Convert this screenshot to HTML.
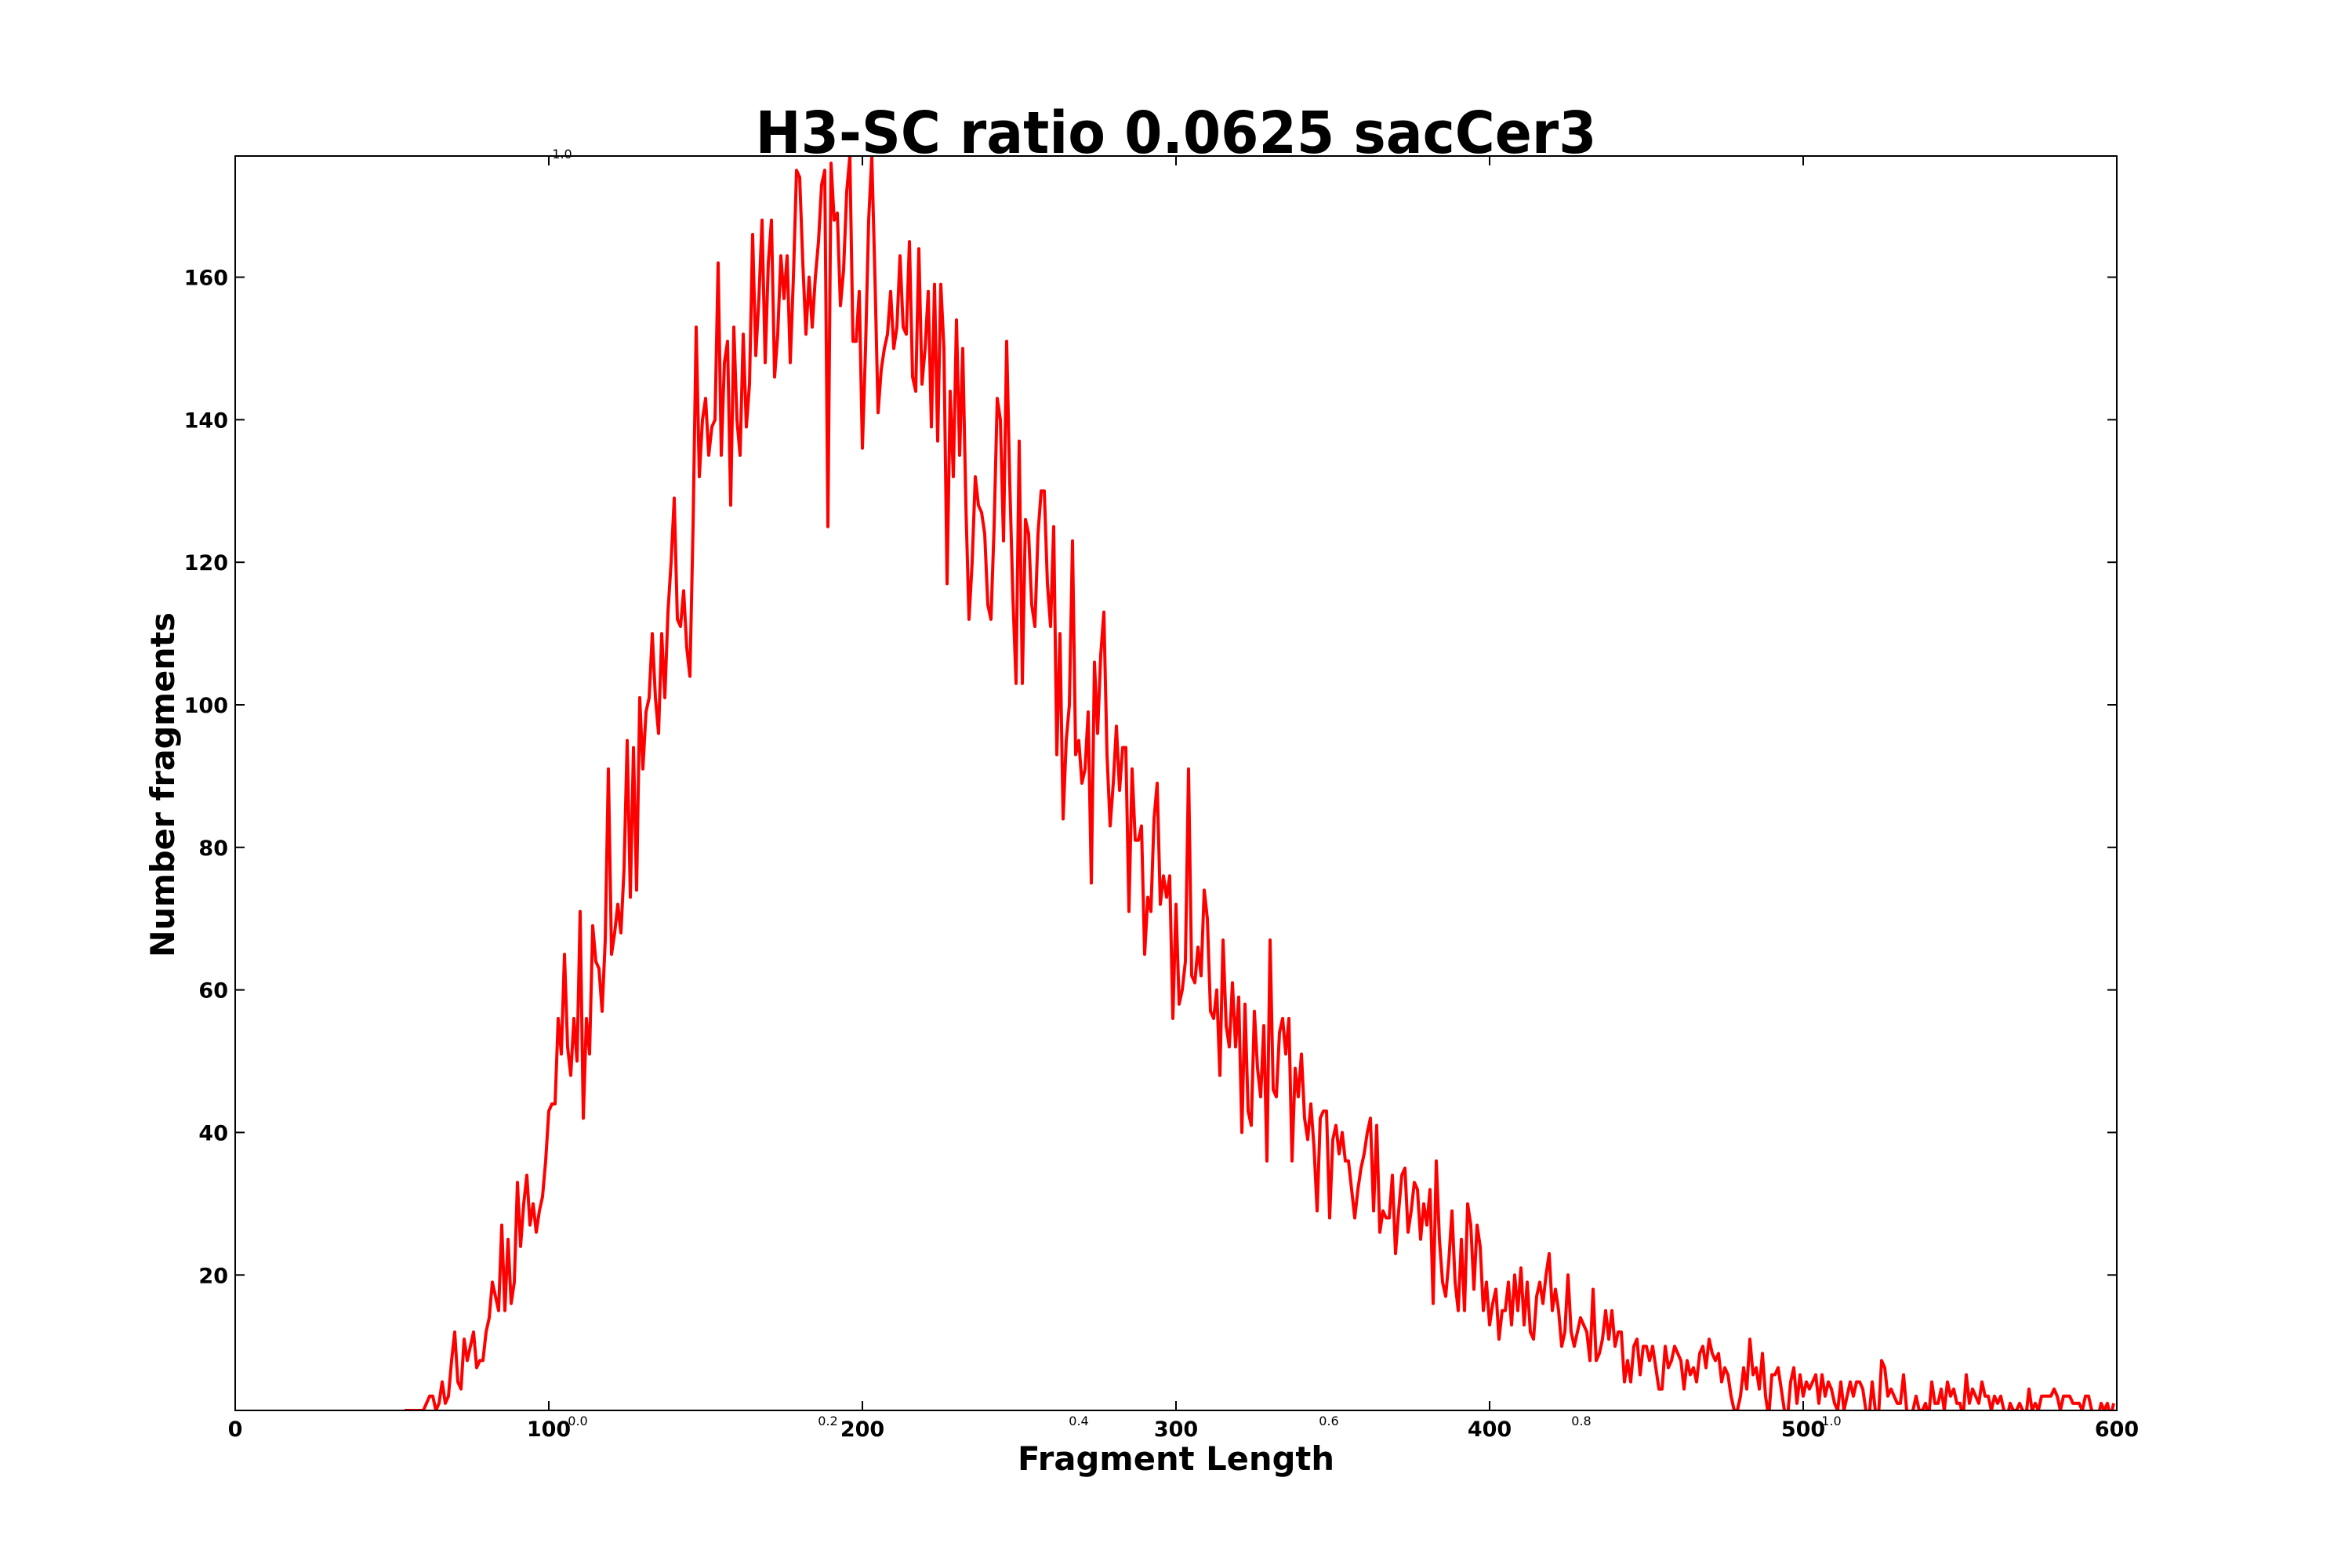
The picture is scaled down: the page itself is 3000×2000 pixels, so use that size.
<!DOCTYPE html>
<html><head><meta charset="utf-8"><style>
html,body{margin:0;padding:0;background:#fff;}
svg{display:block;font-family:"DejaVu Sans","Liberation Sans",sans-serif;}
</style></head><body>
<svg id="chart" width="3000" height="2000" viewBox="0 0 3000 2000">
<rect width="3000" height="2000" fill="#fff"/>
<text x="1500" y="195" text-anchor="middle" font-size="74" font-weight="bold" textLength="1073" lengthAdjust="spacingAndGlyphs">H3-SC ratio 0.0625 sacCer3</text>
<defs><clipPath id="pc"><rect x="300" y="199" width="2400" height="1600"/></clipPath></defs>
<g id="ticks"></g>
<path id="line" fill="none" stroke="#ff0000" stroke-width="4" stroke-linejoin="round" clip-path="url(#pc)"/>
<rect x="300" y="199" width="2400" height="1600" fill="none" stroke="#000" stroke-width="2"/>
<text x="1500" y="1875" text-anchor="middle" font-size="42" font-weight="bold" textLength="404" lengthAdjust="spacingAndGlyphs">Fragment Length</text>
<text transform="translate(222,1001) rotate(-90)" text-anchor="middle" font-size="42" font-weight="bold" textLength="440" lengthAdjust="spacingAndGlyphs">Number fragments</text>
<g font-size="16">
<text x="717" y="202" text-anchor="middle">1.0</text>
<text x="737" y="1818" text-anchor="middle">0.0</text>
<text x="1056" y="1818" text-anchor="middle">0.2</text>
<text x="1376" y="1818" text-anchor="middle">0.4</text>
<text x="1695" y="1818" text-anchor="middle">0.6</text>
<text x="2017" y="1818" text-anchor="middle">0.8</text>
<text x="2336" y="1818" text-anchor="middle">1.0</text>
</g>
</svg>
<script>
const xStart = 54;
const counts = [
1,1,1,1,1,1,1,2,3,
3,1,2,5,2,3,8,12,5,4,
11,8,10,12,7,8,8,12,14,19,
17,15,27,15,25,16,19,33,24,30,
34,27,30,26,29,31,36,43,44,44,
56,51,65,52,48,56,50,71,42,56,
51,69,64,63,57,67,91,65,68,72,
68,77,95,73,94,74,101,91,99,101,
110,101,96,110,101,113,120,129,112,111,
116,108,104,125,153,132,140,143,135,139,
140,162,135,148,151,128,153,140,135,152,
139,145,166,149,157,168,148,162,168,146,
152,163,157,163,148,160,175,174,162,152,
160,153,160,165,173,175,125,176,168,169,
156,161,172,177,151,151,158,136,150,168,
177,160,141,147,
150,152,158,150,
153,163,153,152,165,146,
144,164,145,150,158,139,159,137,159,150,
117,144,132,154,135,150,128,112,120,132,
128,127,124,114,112,125,143,140,123,151,
131,115,103,137,
103,126,124,114,111,124,130,130,117,111,
125,93,110,84,95,100,123,93,95,89,
91,99,75,106,96,107,113,93,83,89,
97,88,94,94,71,91,81,81,83,65,
73,71,84,89,72,76,73,76,56,72,
58,60,64,91,62,61,66,62,74,70,
57,56,60,48,67,55,52,61,52,59,
40,58,43,41,57,49,45,55,36,67,
46,45,54,56,51,56,36,49,45,51,
42,39,44,38,29,42,43,43,28,
39,41,37,40,36,36,32,28,32,35,
37,40,42,29,41,26,29,28,28,34,
23,29,34,35,26,29,33,32,25,30,
27,32,16,36,25,19,17,22,29,19,
15,25,15,30,27,18,27,24,15,19,
13,16,18,11,15,15,19,13,20,15,
21,13,19,12,11,17,19,16,20,23,
15,18,15,10,12,20,12,10,12,14,
13,12,8,18,8,9,11,15,11,15,
10,12,12,5,8,5,10,11,6,10,
10,8,10,7,4,
4,10,7,8,10,9,8,4,8,6,
7,5,9,10,7,11,9,8,9,5,
7,6,3,1,1,3,7,4,11,6,
7,4,9,3,0,6,6,7,4,1,
0,5,7,2,6,3,5,4,5,6,
2,6,3,5,4,2,1,5,1,3,
5,3,5,5,4,1,0,5,1,0,
8,7,3,4,3,2,2,6,1,0,
1,3,1,1,2,0,5,2,2,4,
1,5,3,4,2,2,0,6,2,4,
3,2,5,3,3,1,3,2,3,1,
0,2,1,1,2,1,0,4,1,2,
1,3,3,3,3,4,3,1,3,3,
3,2,2,2,1,3,3,1,0,0,
2,1,2,0,2];
const xTicks = [0,100,200,300,400,500,600];
const yTicks = [20,40,60,80,100,120,140,160];
const X0=300,X1=2700,Y0=1799,Y1=199,XMIN=0,XMAX=600,YMIN=1,YMAX=177;
const sx = v => X0 + (v-XMIN)/(XMAX-XMIN)*(X1-X0);
const sy = v => Y0 - (v-YMIN)/(YMAX-YMIN)*(Y0-Y1);
const NS="http://www.w3.org/2000/svg";
let d="";
counts.forEach((c,i)=>{ d += (i?"L":"M")+sx(xStart+i).toFixed(1)+","+sy(c).toFixed(1); });
document.getElementById('line').setAttribute('d',d);
const g=document.getElementById('ticks');
function mk(tag,attrs){const e=document.createElementNS(NS,tag);for(const k in attrs)e.setAttribute(k,attrs[k]);return e;}
xTicks.forEach(t=>{
  const x=sx(t);
  const l1=mk('line',{x1:x,x2:x,y1:Y0,y2:Y0-12,stroke:'#000','stroke-width':2});
  
  
  g.appendChild(l1);
  const l2=mk('line',{x1:x,x2:x,y1:Y1,y2:Y1+12,stroke:'#000','stroke-width':2});
  
  
  g.appendChild(l2);
  const tx=mk('text',{x:x,y:1832,'text-anchor':'middle','font-size':27,'font-weight':'bold'});
  tx.textContent=t;
  
  
  g.appendChild(tx);
});
yTicks.forEach(t=>{
  const y=sy(t);
  const l1=mk('line',{x1:X0,x2:X0+12,y1:y,y2:y,stroke:'#000','stroke-width':2});
  
  
  g.appendChild(l1);
  const l2=mk('line',{x1:X1,x2:X1-12,y1:y,y2:y,stroke:'#000','stroke-width':2});
  
  
  g.appendChild(l2);
  const tx=mk('text',{x:291,y:y+10,'text-anchor':'end','font-size':27,'font-weight':'bold'});
  tx.textContent=t;
  
  
  g.appendChild(tx);
});
</script>
</body></html>
